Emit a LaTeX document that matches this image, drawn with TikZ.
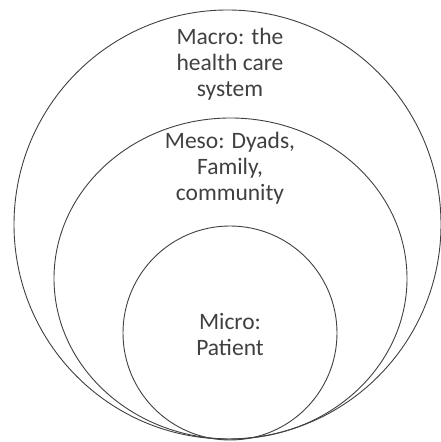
\documentclass[tikz,border=0pt]{standalone}
\usepackage{fontspec}
\setmainfont{Carlito}
\usepackage{xcolor}
\usepackage{tikz}
\definecolor{ringgray}{HTML}{404040}

\begin{document}
\begin{tikzpicture}[x=1pt,y=1pt,
    ring/.style={draw=ringgray,line width=0.9pt},
    lbl/.style={text=ringgray,align=center,font=\fontsize{23.5}{26}\selectfont}]
    \useasboundingbox (0,0) rectangle (441,442);

    \draw[ring] (227.5,217.5) ellipse [x radius=213.5,y radius=214.5];
    \draw[ring] (230.5,163.5) ellipse [x radius=176.5,y radius=160.5];
    \draw[ring] (230,109) circle (107);

    \node[lbl] (macro) at (230,378) {Macro: the\\health care\\system};
    \node[lbl] (meso) at (230,274) {Meso: Dyads,\\Family,\\community};
    \node[lbl] (micro) at (230,107.5) {Micro:\\Patient};
\end{tikzpicture}
\end{document}
